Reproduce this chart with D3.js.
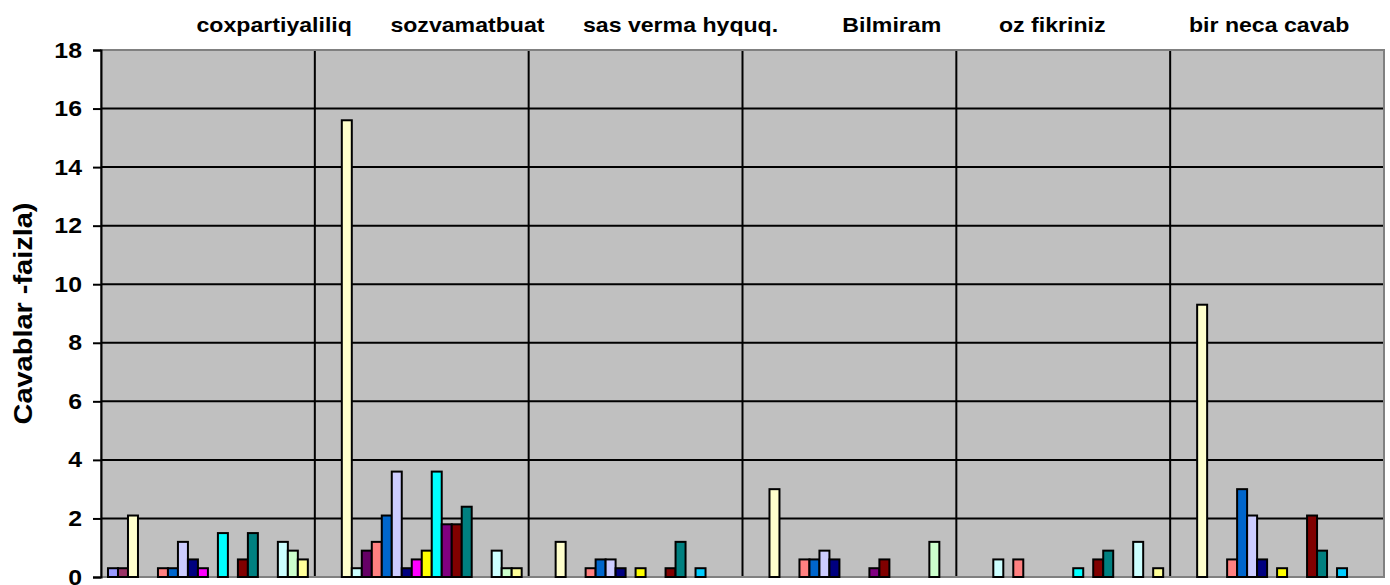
<!DOCTYPE html>
<html>
<head>
<meta charset="utf-8">
<script src="https://cdn.jsdelivr.net/npm/d3@7"></script>
<style>
  body { margin: 0; background: #fff; }
  svg { display: block; font-family: "Liberation Sans", Arial, sans-serif; }
</style>
</head>
<body>
<svg id="chart" width="1390" height="585"></svg>
<script>
// categories (read left to right)
var categories = ["coxpartiyaliliq", "sozvamatbuat", "sas verma hyquq.", "Bilmiram", "oz fikriniz", "bir neca cavab"];
// the top text is one title string, words spread with spaces
var titleText = "coxpartiyaliliq      sozvamatbuat      sas verma hyquq.          Bilmiram         oz fikriniz             bir neca cavab";
var yTitle = "Cavablar -faizla)";
var yTicks = [0, 2, 4, 6, 8, 10, 12, 14, 16, 18];

// 20 series, no legend in the picture
var seriesNames = d3.range(1, 21).map(function(i) { return "S" + i; });
var seriesColors = ["#9999FF", "#993366", "#FFFFCC", "#CCFFFF", "#660066", "#FF8080", "#0066CC", "#CCCCFF", "#000080", "#FF00FF",
                    "#FFFF00", "#00FFFF", "#800080", "#800000", "#008080", "#0000FF", "#00CCFF", "#CCFFFF", "#CCFFCC", "#FFFF99"];

// values per category, one per series
var coxpartiyaliliq = [0.3, 0.3, 2.1, 0, 0, 0.3, 0.3, 1.2, 0.6, 0.3, 0, 1.5, 0, 0.6, 1.5, 0, 0, 1.2, 0.9, 0.6];
var sozvamatbuat    = [0, 0, 15.6, 0.3, 0.9, 1.2, 2.1, 3.6, 0.3, 0.6, 0.9, 3.6, 1.8, 1.8, 2.4, 0, 0, 0.9, 0.3, 0.3];
var sasVerma        = [0, 0, 1.2, 0, 0, 0.3, 0.6, 0.6, 0.3, 0, 0.3, 0, 0, 0.3, 1.2, 0, 0.3, 0, 0, 0];
var bilmiram        = [0, 0, 3.0, 0, 0, 0.6, 0.6, 0.9, 0.6, 0, 0, 0, 0.3, 0.6, 0, 0, 0, 0, 1.2, 0];
var ozFikriniz      = [0, 0, 0, 0.6, 0, 0.6, 0, 0, 0, 0, 0, 0.3, 0, 0.6, 0.9, 0, 0, 1.2, 0, 0.3];
var birNecaCavab    = [0, 0, 9.3, 0, 0, 0.6, 3.0, 2.1, 0.6, 0, 0.3, 0, 0, 2.1, 0.9, 0, 0.3, 0, 0, 0];

var valuesByCat = [coxpartiyaliliq, sozvamatbuat, sasVerma, bilmiram, ozFikriniz, birNecaCavab];

var margin = {top: 50, right: 6, bottom: 8, left: 101};
var width = 1390 - margin.left - margin.right,
    height = 585 - margin.top - margin.bottom;
var sx = 1.13; // text in the picture is a bit wider than normal

var svg = d3.select("#chart");
var g = svg.append("g").attr("transform", "translate(" + margin.left + "," + margin.top + ")");

var x0 = d3.scaleBand().domain(categories).range([0, width]).padding(0);
var x1 = d3.scaleBand().domain(seriesNames).range([0, x0.bandwidth()]).paddingInner(0).paddingOuter(0.7);
var y = d3.scaleLinear().domain([0, 18]).range([height, 0]);

// plot background
g.append("rect")
  .attr("width", width).attr("height", height)
  .attr("fill", "#C0C0C0");

// horizontal gridlines
g.selectAll(".hgrid")
  .data(yTicks.slice(1))
  .enter().append("line")
    .attr("class", "hgrid")
    .attr("x1", 0).attr("x2", width)
    .attr("y1", function(d) { return y(d); })
    .attr("y2", function(d) { return y(d); })
    .attr("stroke", "#000").attr("stroke-width", 2);

// vertical gridlines between categories
g.selectAll(".vgrid")
  .data(categories.slice(1))
  .enter().append("line")
    .attr("class", "vgrid")
    .attr("x1", function(d) { return x0(d); })
    .attr("x2", function(d) { return x0(d); })
    .attr("y1", 0).attr("y2", height)
    .attr("stroke", "#000").attr("stroke-width", 2);

// plot border (gray)
g.append("rect")
  .attr("width", width).attr("height", height)
  .attr("fill", "none")
  .attr("stroke", "#808080").attr("stroke-width", 2);

// bars
var groups = g.selectAll(".cat")
  .data(categories)
  .enter().append("g")
    .attr("class", "cat")
    .attr("transform", function(d) { return "translate(" + x0(d) + ",0)"; });

groups.selectAll("rect")
  .data(function(d, i) {
    return valuesByCat[i].map(function(v, j) { return {s: seriesNames[j], v: v, c: seriesColors[j]}; })
      .filter(function(e) { return e.v > 0; });
  })
  .enter().append("rect")
    .attr("x", function(d) { return x1(d.s); })
    .attr("y", function(d) { return y(d.v); })
    .attr("width", x1.bandwidth())
    .attr("height", function(d) { return height - y(d.v); })
    .attr("fill", function(d) { return d.c; })
    .attr("stroke", "#000")
    .attr("stroke-width", 2);

// y axis
var yAxis = g.append("g")
  .call(d3.axisLeft(y).tickValues(yTicks).tickSize(8).tickPadding(0).tickFormat(d3.format("d")));
yAxis.select(".domain").attr("stroke", "#000").attr("stroke-width", 2);
yAxis.selectAll(".tick line").attr("stroke", "#000").attr("stroke-width", 2);
yAxis.selectAll(".tick text")
  .attr("x", -19 / sx)
  .attr("transform", "scale(" + sx + ",1)")
  .attr("fill", "#000")
  .style("font-size", "22px")
  .style("font-weight", "bold")
  .style("font-family", "'Liberation Sans', Arial, sans-serif");

// y title
svg.append("text")
  .attr("transform", "translate(32," + (margin.top + height / 2) + ") rotate(-90)")
  .attr("text-anchor", "middle")
  .attr("textLength", 222)
  .attr("lengthAdjust", "spacingAndGlyphs")
  .style("font-size", "26px")
  .style("font-weight", "bold")
  .text(yTitle);

// top title with category names
svg.append("text")
  .attr("x", 773)
  .attr("y", 32)
  .attr("text-anchor", "middle")
  .attr("textLength", 1153)
  .attr("lengthAdjust", "spacingAndGlyphs")
  .style("white-space", "pre")
  .style("font-size", "20.5px")
  .style("font-weight", "bold")
  .text(titleText);
</script>
</body>
</html>
